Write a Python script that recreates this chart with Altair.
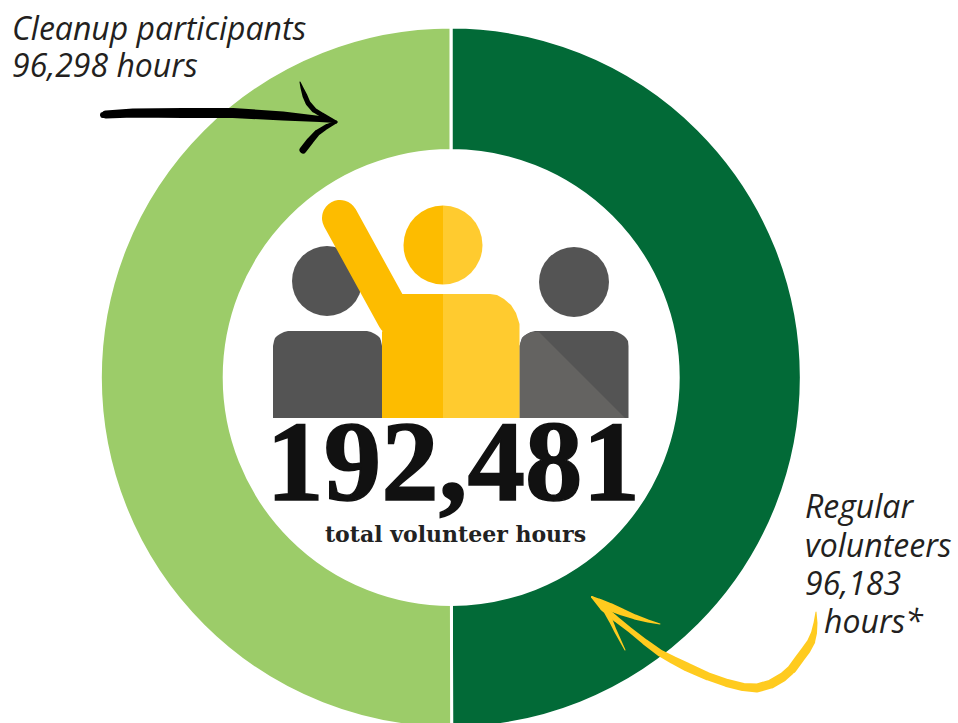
import math
import altair as alt
import pandas as pd

# Volunteer hours by group
groups = ["Regular volunteers", "Cleanup participants"]
hours = [96183, 96298]
ring_colors = ["#026A37", "#9CCC69"]

# Figure icon: heads as (x, y, radius, start turn, end turn, colour)
head_x = [327, 574, 443, 443]
head_y = [281, 282, 245, 245]
head_r = [35, 35, 39.5, 39.5]
head_start = [0, 0, 0.5, 0]
head_end = [1, 1, 1, 0.5]
head_color = ["#545454", "#545454", "#FDBC00", "#FFCB2F"]

# Figure icon: body outlines
left_body_x = [273, 274, 275, 277, 280, 284, 288, 367, 371, 375, 378, 380, 381, 382]
left_body_top = [346, 341, 338, 336, 334, 332, 331, 331, 332, 334, 336, 338, 341, 346]
mid_dark_x = [382, 402, 443]
mid_dark_top = [332, 294, 294]
mid_light_x = [443, 490, 497, 504, 511, 516, 519.5]
mid_light_top = [294, 294, 295, 299, 305, 313, 324]
right_body_x = [519.5, 521, 522, 524, 527, 531, 535, 613, 617, 621, 624, 626, 628, 628.5]
right_body_top = [346, 341, 338, 336, 334, 332, 331, 331, 332, 334, 336, 338, 341, 346]
right_shade_x = [519.5, 521, 522, 524, 527, 531, 539, 625]
right_shade_top = [346, 341, 338, 336, 334, 332, 332, 418]
body_floor = 418
arm_x = [340, 395]
arm_y = [218, 318]

# Brush-stroke arrows: one list each of x, y and stroke width
black_shaft = (
    [103, 106, 133, 183, 233, 283, 320, 336],
    [115, 114.5, 113, 113, 113, 116, 119, 122],
    [6, 8, 9, 10, 10, 9, 6, 2],
)
black_upper = ([300, 302, 305, 308, 314, 322, 336], [82, 88, 96, 103, 110, 115, 122], [1, 3, 5, 5, 5, 5, 3])
black_lower = ([336, 326, 317, 310, 303], [122, 127, 133, 141, 150], [3, 5, 6, 7, 7])
gold_shaft = (
    [816, 815.5, 814, 811, 806, 800, 792, 783, 771, 757, 743, 727, 707, 687, 673, 660, 645, 630, 616, 603, 592],
    [612, 623, 633, 642, 650, 658, 669, 677, 684, 688, 687, 683, 676, 667, 660, 653, 642, 630, 619, 608, 597],
    [1, 4, 6, 8, 9, 9, 9, 9, 9, 9, 8, 8, 8, 9, 8, 7, 6, 5, 6, 6, 2],
)
gold_upper = ([592, 600, 610, 622, 635, 648, 660], [597, 602, 607, 612, 617, 621, 624], [2, 6, 8, 7, 5, 3, 1])
gold_lower = ([607, 611, 615, 620, 625], [613, 621, 630, 640, 650], [5, 4, 3, 2, 1])

# Text labels: text, x, baseline y
label_text = ["Cleanup participants", "96,298 hours", "Regular", "volunteers", "96,183", "hours*"]
label_x = [12, 12, 805, 805, 805, 824]
label_y = [40, 77, 518, 557, 595, 633]

sx = alt.Scale(domain=[0, 958], range=[0, 958])
sy = alt.Scale(domain=[0, 723], range=[0, 723])
X = lambda f: alt.X(f, type="quantitative", scale=sx, axis=None)
Y = lambda f: alt.Y(f, type="quantitative", scale=sy, axis=None)

ring = alt.Chart(pd.DataFrame({
    "group": groups, "hours": hours, "color": ring_colors, "rank": [0, 1],
})).mark_arc(outerRadius=350.5, innerRadius=227, stroke="white", strokeWidth=3, clip=True).encode(
    theta=alt.Theta("hours:Q", stack="zero"),
    order=alt.Order("rank:Q"),
    color=alt.Color("color:N", scale=None),
    x=alt.value(451),
    y=alt.value(377.5),
)


def heads(rows):
    frame = pd.DataFrame({
        "x": [head_x[i] for i in rows],
        "y": [head_y[i] for i in rows],
        "r": [head_r[i] for i in rows],
        "t0": [head_start[i] * 2 * math.pi for i in rows],
        "t1": [head_end[i] * 2 * math.pi for i in rows],
        "color": [head_color[i] for i in rows],
    })
    return alt.Chart(frame).mark_arc().encode(
        x=X("x"), y=Y("y"),
        theta=alt.Theta("t0:Q", scale=None),
        theta2=alt.Theta2("t1"),
        radius=alt.Radius("r:Q", scale=None),
        color=alt.Color("color:N", scale=None),
    )


def body(xs, tops, color):
    frame = pd.DataFrame({"x": xs, "top": tops, "floor": [body_floor] * len(xs)})
    return alt.Chart(frame).mark_area(color=color).encode(
        x=X("x"), y=Y("top"), y2=alt.Y2("floor"),
    )


def stroke(points, color):
    xs, ys, widths = points
    frame = pd.DataFrame({"x": xs, "y": ys, "w": widths, "i": range(len(xs))})
    return alt.Chart(frame).mark_trail(color=color).encode(
        x=X("x"), y=Y("y"),
        size=alt.Size("w:Q", scale=None, legend=None),
        order=alt.Order("i:Q"),
    )


arm = alt.Chart(pd.DataFrame({"x": arm_x, "y": arm_y, "i": [0, 1]})).mark_line(
    color="#FDBC00", strokeWidth=36, strokeCap="round"
).encode(x=X("x"), y=Y("y"), order=alt.Order("i:Q"))

labels = alt.Chart(pd.DataFrame({"t": label_text, "x": label_x, "y": label_y})).mark_text(
    font="Open Sans", fontStyle="italic", fontSize=32, color="#231F20", align="left", baseline="alphabetic"
).encode(x=X("x"), y=Y("y"), text="t:N")

total = alt.Chart(pd.DataFrame({"t": ["192,481"], "x": [453], "y": [500]})).mark_text(
    font="Liberation Serif", fontWeight="bold", fontSize=115, color="#111111",
    stroke="#111111", strokeWidth=1.5, align="center", baseline="alphabetic"
).encode(x=X("x"), y=Y("y"), text="t:N")

caption = alt.Chart(pd.DataFrame({"t": ["total volunteer hours"], "x": [455.5], "y": [542]})).mark_text(
    font="DejaVu Serif", fontWeight="bold", fontSize=22, color="#222222",
    align="center", baseline="alphabetic"
).encode(x=X("x"), y=Y("y"), text="t:N")

chart = alt.layer(
    ring,
    heads([0, 1]),
    arm,
    body(left_body_x, left_body_top, "#545454"),
    body(right_body_x, right_body_top, "#545454"),
    body(right_shade_x, right_shade_top, "#646361"),
    body(mid_dark_x, mid_dark_top, "#FDBC00"),
    body(mid_light_x, mid_light_top, "#FFCB2F"),
    heads([2, 3]),
    total,
    caption,
    labels,
    stroke(black_shaft, "#000000"),
    stroke(black_upper, "#000000"),
    stroke(black_lower, "#000000"),
    stroke(gold_shaft, "#FFCB1F"),
    stroke(gold_upper, "#FFCB1F"),
    stroke(gold_lower, "#FFCB1F"),
).properties(
    width=958,
    height=723,
    padding=0,
    background="white",
    autosize=alt.AutoSizeParams(type="none"),
).configure_view(stroke=None)

chart.save("out.html", embed_options={"renderer": "svg", "actions": False})
